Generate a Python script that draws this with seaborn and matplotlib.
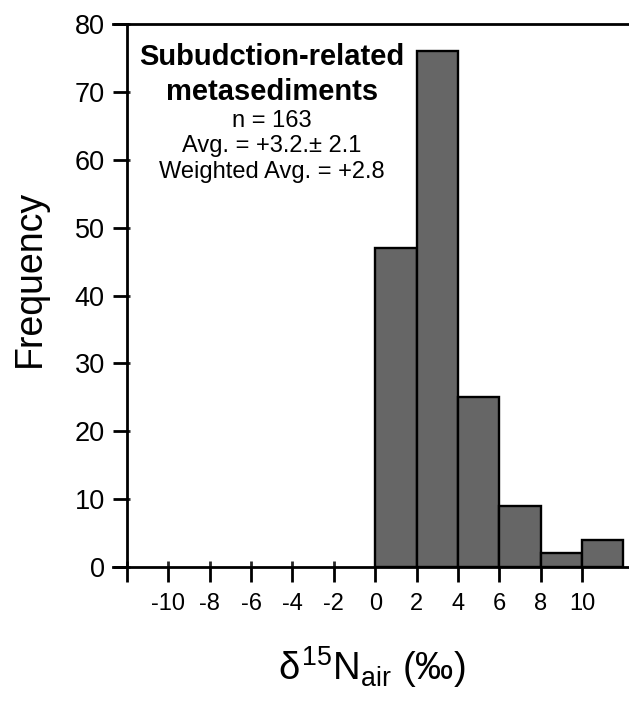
import matplotlib
matplotlib.use("Agg")
import matplotlib.pyplot as plt
from matplotlib.ticker import FixedLocator
import numpy as np
import seaborn as sns

# histogram of d15N values (bin edges and counts)
bin_edges = [0, 2, 4, 6, 8, 10, 12]
bin_counts = [47, 76, 25, 9, 2, 4]
x_ticks = [-12, -10, -8, -6, -4, -2, 0, 2, 4, 6, 8, 10]
x_tick_labels = ["", "-10", "-8", "-6", "-4", "-2", "0", "2", "4", "6", "8", "10"]
y_ticks = [0, 10, 20, 30, 40, 50, 60, 70, 80]

title_lines = ["Subudction-related", "metasediments"]
stat_lines = ["n = 163", "Avg. = +3.2.\u00b1 2.1", "Weighted Avg. = +2.8"]

sns.set_style("ticks")
plt.rcParams['font.family'] = ['Liberation Sans', 'DejaVu Sans']
plt.rcParams['axes.unicode_minus'] = False
plt.rcParams['mathtext.fontset'] = 'custom'
plt.rcParams['mathtext.rm'] = 'Liberation Sans'
plt.rcParams['mathtext.it'] = 'Liberation Sans'
plt.rcParams['text.color'] = 'black'
plt.rcParams['axes.labelcolor'] = 'black'

fig = plt.figure(figsize=(6.29, 7.04), dpi=100)
ax = fig.add_axes([127 / 629, 1 - 567 / 704, 502 / 629, 543 / 704])

centers = [(bin_edges[i] + bin_edges[i + 1]) / 2 for i in range(len(bin_counts))]
sns.histplot(x=centers, weights=bin_counts, bins=bin_edges, ax=ax,
             color="#666666", alpha=1, edgecolor="black", linewidth=1.7)

ax.set_xlim(-12, 12.27)
ax.set_ylim(0, 80)

ax.spines['right'].set_visible(False)
for s in ['left', 'bottom', 'top']:
    ax.spines[s].set_linewidth(2.0)
    ax.spines[s].set_color('black')
ax.spines['top'].set_bounds(-12.7, 12.27)
ax.spines['bottom'].set_bounds(-12.7, 12.27)

# major ticks out, short "minor" ticks in at same spots -> crossing ticks
ax.set_xticks(x_ticks)
ax.set_xticklabels(x_tick_labels)
ax.set_yticks(y_ticks)
ax.xaxis.remove_overlapping_locs = False
ax.yaxis.remove_overlapping_locs = False
ax.xaxis.set_minor_locator(FixedLocator(x_ticks))
ax.yaxis.set_minor_locator(FixedLocator(y_ticks))
ax.tick_params(axis='x', which='major', direction='out', length=11, width=2.0,
               labelsize=17, pad=8, colors='black')
ax.tick_params(axis='x', which='minor', direction='in', length=4, width=2.0)
ax.tick_params(axis='y', which='major', direction='out', length=10, width=2.0,
               labelsize=19.5, pad=6, colors='black')
ax.tick_params(axis='y', which='minor', direction='in', length=2.5, width=2.0)

ax.set_ylabel("Frequency", fontsize=27)
ax.yaxis.set_label_coords(-0.157, 0.532)
ax.set_xlabel(r"$\delta^{15}$N$_{\rm air}$ (‰)", fontsize=27.5)
ax.xaxis.set_label_coords(0.488, -0.143)

ax.text(-5, 75.1, title_lines[0], ha='center', va='center', fontsize=21, fontweight='bold')
ax.text(-5, 70.0, title_lines[1], ha='center', va='center', fontsize=21, fontweight='bold')
for yy, line in zip([65.7, 62.0, 58.2], stat_lines):
    ax.text(-5, yy, line, ha='center', va='center', fontsize=17)

fig.savefig("out.png", dpi=100)
